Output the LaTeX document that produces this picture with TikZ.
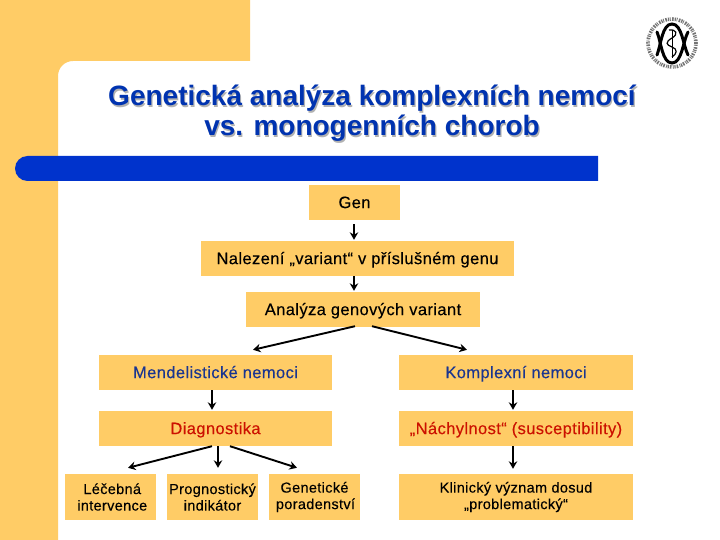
\documentclass[tikz,border=0pt]{standalone}
\usepackage{fontspec}
\setmainfont{Liberation Sans}
\usetikzlibrary{arrows.meta}
\definecolor{bandor}{HTML}{FFCC66}
\definecolor{barblue}{HTML}{0033CC}
\definecolor{titleblue}{HTML}{0033B0}
\definecolor{redtxt}{HTML}{CC1100}
\definecolor{navytxt}{HTML}{1A3590}
\tikzset{
 x=1pt,y=-1pt,
 bx/.style={fill=bandor,draw=none,inner sep=0pt,align=center,text=black,text height=13.6pt,text depth=2.4pt,font=\fontsize{16.5}{19}\selectfont\addfontfeature{LetterSpace=2.4,FakeBold=0.25}},
 bxs/.style={bx,text height=,text depth=,font=\fontsize{14.5}{16.5}\selectfont\addfontfeature{LetterSpace=2.3,FakeBold=0.25}},
 ar/.style={-{Stealth[length=7.5pt,width=8.5pt]},line width=1.9pt,black},
 ttl/.style={align=center,font=\fontsize{28}{30}\selectfont\bfseries,inner sep=0pt},
 logoline/.style={line width=3pt,black,line cap=round}
}
\begin{document}
\begin{tikzpicture}
\useasboundingbox (0,0) rectangle (720,540);
\fill[white] (0,0) rectangle (720,540);
% background band
\fill[bandor] (0,0) -- (250,0) -- (250,61) -- (73,61) arc[start angle=270,end angle=180,radius=15] -- (58,540) -- (0,540) -- cycle;
% blue bar
\fill[barblue] (598,156) -- (27.5,156) arc[start angle=270,end angle=90,radius=12.5] -- (598,181) -- cycle;
% title
\node[ttl,text=gray!60] at (373.2,114.8) {Genetická analýza komplexních nemocí\\vs. monogenních chorob};
\node[ttl,text=titleblue] (title) at (372,113.5) {Genetická analýza komplexních nemocí\\vs. monogenních chorob};
% logo
\draw[black!55,line width=3.6pt,dash pattern=on 1.2pt off 0.8pt on 0.8pt off 1.4pt on 1.6pt off 1pt] (672,43) circle[radius=24];
\draw[logoline] (657,55) .. controls (661,45) and (662,24) .. (672,24) .. controls (682,24) and (683,45) .. (688,55);
\draw[logoline] (657,32) .. controls (661,41) and (662,63) .. (672,63) .. controls (682,63) and (683,41) .. (688,32);
\draw[black,line width=0.9pt] (672,30) -- (672,58);
\draw[black,line width=1.2pt] (669,30) .. controls (676,29) and (679,34) .. (672,38) .. controls (665,42) and (666,45) .. (672,47) .. controls (678,49) and (677,54) .. (672,57);
% boxes
\node[bx,minimum width=91pt,minimum height=35pt] (gen) at (354.5,202.5) {Gen};
\node[bx,minimum width=313pt,minimum height=35pt] (nal) at (357.5,258.5) {Nalezení „variant“ v příslušném genu};
\node[bx,minimum width=234pt,minimum height=35pt] (ana) at (363,309.5) {Analýza genových variant};
\node[bx,minimum width=233pt,minimum height=35pt,text=navytxt] (men) at (215.5,372.5) {Mendelistické nemoci};
\node[bx,minimum width=234pt,minimum height=35pt,text=navytxt] (kom) at (516,372.5) {Komplexní nemoci};
\node[bx,minimum width=233pt,minimum height=35pt,text=redtxt] (dia) at (215.5,428.5) {Diagnostika};
\node[bx,minimum width=234pt,minimum height=35pt,text=redtxt] (nac) at (516,428.5) {„Náchylnost“ (susceptibility)};
\node[bxs,minimum width=91pt,minimum height=46pt] (lec) at (110.5,497) {\hspace*{3.5pt}Léčebná\\\hspace*{3.5pt}intervence};
\node[bxs,minimum width=91pt,minimum height=46pt] (pro) at (212.5,497) {Prognostický\\indikátor};
\node[bxs,minimum width=91pt,minimum height=46pt] (gnt) at (314.5,497) {Genetické\\\hspace*{2pt}poradenství};
\node[bxs,minimum width=234pt,minimum height=46pt] (kli) at (516,497) {Klinický význam dosud\\„problematický“};
% connectors
\draw[ar] ([yshift=-4pt]gen.south -| 354,0) -- ([yshift=1pt]nal.north -| 354,0);
\draw[ar] (nal.south -| 354,0) -- ([yshift=1pt]ana.north -| 354,0);
\draw[ar] ([yshift=1pt]ana.south -| 355,0) -- ([yshift=5pt]men.north -| 253,0);
\draw[ar] ([yshift=1pt]ana.south -| 372,0) -- ([yshift=5pt]kom.north -| 467,0);
\draw[ar] (men.south -| 212,0) -- ([yshift=1pt]dia.north -| 212,0);
\draw[ar] (kom.south -| 513,0) -- ([yshift=1pt]nac.north -| 513,0);
\draw[ar] (dia.south -| 212,0) -- ([yshift=6pt]lec.north -| 128,0);
\draw[ar] (dia.south -| 218,0) -- ([yshift=6pt]pro.north -| 218,0);
\draw[ar] (dia.south -| 230,0) -- ([yshift=6pt]gnt.north -| 297,0);
\draw[ar] (nac.south -| 513,0) -- ([yshift=5pt]kli.north -| 513,0);
\end{tikzpicture}
\end{document}
